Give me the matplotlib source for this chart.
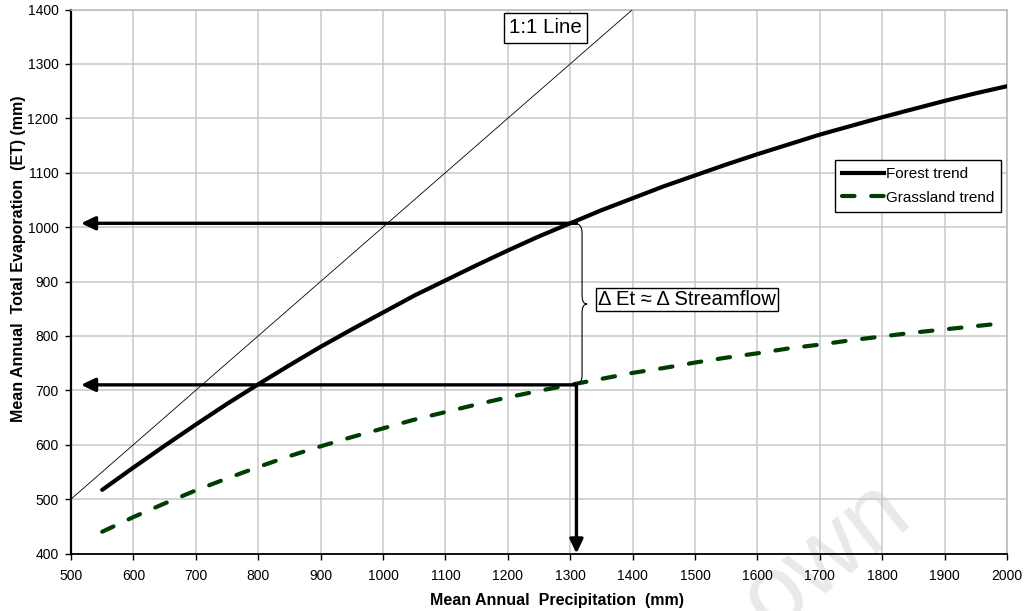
import matplotlib
matplotlib.use('Agg')
import matplotlib.pyplot as plt
from matplotlib.path import Path
from matplotlib.patches import PathPatch
from matplotlib.lines import Line2D

plt.rcParams['font.family'] = ['Liberation Sans', 'DejaVu Sans']

# ---- data ----
precip = [550, 600, 650, 700, 750, 800, 850, 900, 950, 1000,
          1050, 1100, 1150, 1200, 1250, 1300, 1350, 1400, 1450, 1500,
          1550, 1600, 1650, 1700, 1750, 1800, 1850, 1900, 1950, 2000]
forest_et = [517, 558, 598, 637, 675, 711, 746, 780, 812, 843,
             874, 902, 930, 957, 983, 1007, 1031, 1053, 1075, 1095,
             1115, 1134, 1152, 1170, 1186, 1202, 1217, 1232, 1246, 1259]
grass_et = [440, 467, 492, 516, 538, 559, 579, 597, 614, 630,
            646, 660, 674, 687, 699, 710, 721, 732, 741, 751,
            760, 768, 777, 784, 792, 799, 806, 812, 818, 824]
one_to_one_x = [500, 1400]
one_to_one_y = [500, 1400]
x_ticks = list(range(500, 2001, 100))
y_ticks = list(range(400, 1401, 100))
p_ref = 1310
et_forest_ref = 1007
et_grass_ref = 710
arrow_tip_x = 516
series_labels = ['Forest trend', 'Grassland trend']

grass_color = '#003d00'

fig = plt.figure(figsize=(10.24, 6.11), dpi=100)
fig.patch.set_facecolor('white')
ax = fig.add_axes([71/1024, 57.5/611, 936/1024, 544/611])
ax.patch.set_alpha(0)

# faint watermark behind everything
fig.text(826/1024, 1 - 556/611, 'own', rotation=38, ha='center', va='center',
         fontsize=72, color='#e9e9e9', zorder=-5)

ax.set_xlim(500, 2000)
ax.set_ylim(400, 1400)
ax.set_xticks(x_ticks)
ax.set_yticks(y_ticks)
ax.grid(True, color='#c8c8c8', lw=1.1)
ax.set_axisbelow(True)

for s in ['top', 'right']:
    ax.spines[s].set_color('#b8b8b8')
    ax.spines[s].set_linewidth(1.1)
ax.spines['left'].set_color('black')
ax.spines['left'].set_linewidth(1.6)
ax.spines['bottom'].set_color('black')
ax.spines['bottom'].set_linewidth(1.3)

ax.tick_params(axis='x', direction='out', length=4, width=1, labelsize=10, pad=7)
ax.tick_params(axis='y', direction='out', length=4, width=1, labelsize=10, pad=5)

# 1:1 line
ax.plot(one_to_one_x, one_to_one_y, color='black', lw=0.6, zorder=3)

# trends
ax.plot(precip, forest_et, color='black', lw=3.0, solid_capstyle='round', zorder=4)
ax.plot(precip, grass_et, color=grass_color, lw=3.0, dashes=(3.0, 4.0),
        dash_capstyle='round', zorder=4)

# arrows
ap = dict(arrowstyle='-|>,head_length=0.42,head_width=0.2', mutation_scale=20,
          lw=2.4, color='black', shrinkA=0, shrinkB=0)
ax.annotate('', xy=(arrow_tip_x, et_forest_ref), xytext=(p_ref, et_forest_ref),
            arrowprops=ap, zorder=5)
ax.annotate('', xy=(arrow_tip_x, et_grass_ref), xytext=(p_ref, et_grass_ref),
            arrowprops=ap, zorder=5)
ax.annotate('', xy=(p_ref, 400), xytext=(p_ref, et_grass_ref),
            arrowprops=ap, zorder=5, annotation_clip=False)

# brace
mid = (et_forest_ref + et_grass_ref) / 2
verts = [(1306, et_forest_ref), (1319, et_forest_ref), (1319, 990),
         (1319, mid + 16), (1319, mid), (1327, mid),
         (1319, mid), (1319, mid - 16),
         (1319, 727), (1319, et_grass_ref), (1306, et_grass_ref)]
codes = [Path.MOVETO, Path.CURVE3, Path.CURVE3,
         Path.LINETO, Path.CURVE3, Path.CURVE3,
         Path.CURVE3, Path.CURVE3,
         Path.LINETO, Path.CURVE3, Path.CURVE3]
ax.add_patch(PathPatch(Path(verts, codes), fc='none', ec='black', lw=0.8, zorder=5))

# text boxes
ax.text(1260, 1366, '1:1 Line', ha='center', va='center', fontsize=14.8, zorder=6,
        bbox=dict(boxstyle='square,pad=0.25', fc='white', ec='black', lw=1.0))
ax.text(1487, 867, 'Δ Et ≈ Δ Streamflow', ha='center', va='center', fontsize=14.6,
        zorder=6, bbox=dict(boxstyle='square,pad=0.12', fc='white', ec='black', lw=1.0))

# legend
handles = [Line2D([], [], color='black', lw=3.0),
           Line2D([], [], color=grass_color, lw=3.0, dashes=(3.0, 4.0),
                  dash_capstyle='round')]
leg = ax.legend(handles, series_labels, loc='upper right',
                bbox_to_anchor=((1001-71)/936, (553.5-160)/544),
                fontsize=11, handlelength=2.75, handletextpad=0.1,
                borderpad=0.45, labelspacing=0.65, borderaxespad=0,
                fancybox=False, framealpha=1, edgecolor='black')
leg.get_frame().set_linewidth(1.0)

# axis labels
ax.set_xlabel('Mean Annual  Precipitation  (mm)', fontsize=11.5, fontweight='bold')
ax.xaxis.set_label_coords((557-71)/936, (553.5-600)/544)
ax.xaxis.label.set_va('center')
ax.set_ylabel('Mean Annual  Total Evaporation  (ET) (mm)', fontsize=11.5, fontweight='bold')
ax.yaxis.set_label_coords((19-71)/936, (553.5-258.5)/544)
ax.yaxis.label.set_va('center')

fig.savefig('out.png', dpi=100, facecolor='white')
